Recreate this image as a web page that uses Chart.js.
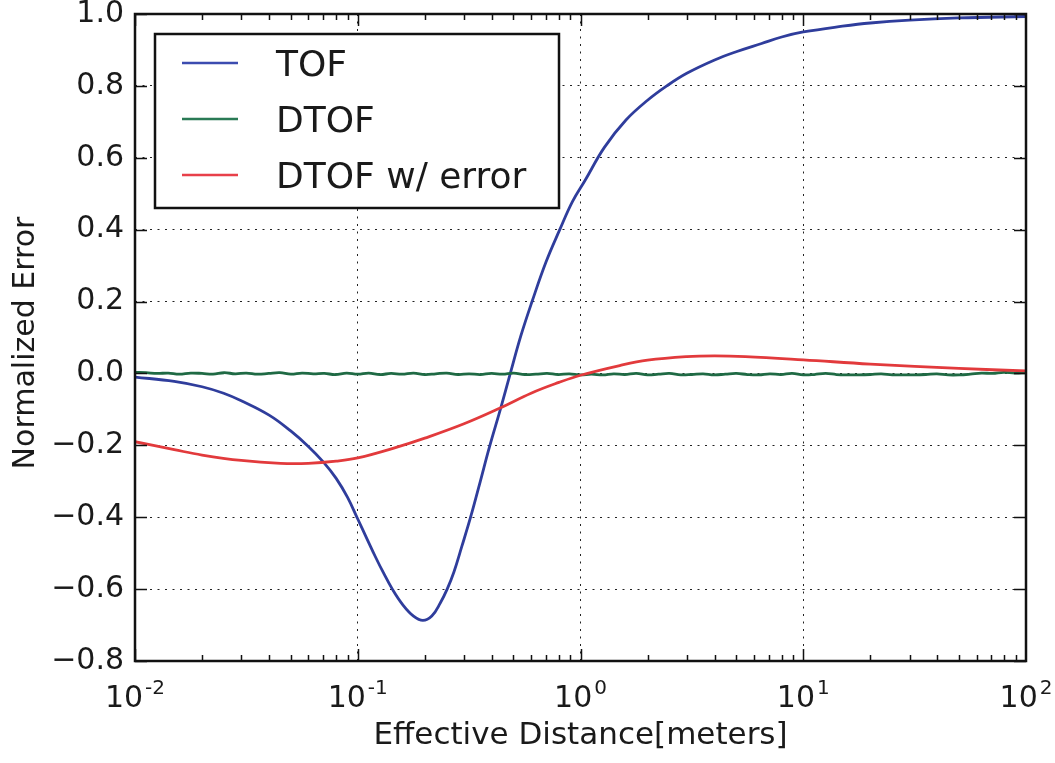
<!DOCTYPE html>
<html>
<head>
<meta charset="utf-8">
<script src="https://cdn.jsdelivr.net/npm/chart.js@4/dist/chart.umd.min.js"></script>
<style>
  html, body { margin: 0; padding: 0; background: #fff; }
  #wrap { width: 1055px; height: 763px; }
</style>
</head>
<body>
<div id="wrap"><canvas id="chart" width="1055" height="763"></canvas></div>
<script>
// --- data ---
const seriesLabels = ['TOF', 'DTOF', 'DTOF w/ error'];

const tofX = [0.01, 0.015, 0.02, 0.025, 0.03, 0.04, 0.05, 0.06, 0.07, 0.08, 0.09, 0.1,
  0.11, 0.12, 0.13, 0.143, 0.16, 0.178, 0.196, 0.215, 0.235, 0.252, 0.27, 0.293, 0.321,
  0.355, 0.39, 0.44, 0.484, 0.54, 0.606, 0.70, 0.807, 0.92, 1.046, 1.28, 1.6, 2.0, 2.44,
  3.0, 4.0, 5.0, 6.5, 8.0, 10, 15, 20, 30, 50, 100];
const tofY = [-0.010, -0.022, -0.037, -0.055, -0.076, -0.116, -0.160, -0.203, -0.246, -0.292, -0.345, -0.405,
  -0.460, -0.510, -0.553, -0.600, -0.645, -0.675, -0.687, -0.675, -0.638, -0.600, -0.553, -0.482, -0.400,
  -0.300, -0.205, -0.093, 0.000, 0.105, 0.200, 0.310, 0.400, 0.478, 0.536, 0.629, 0.705, 0.760, 0.800,
  0.835, 0.872, 0.895, 0.918, 0.936, 0.950, 0.966, 0.975, 0.983, 0.989, 0.993];

const dtofX = [
  0.01, 0.0112, 0.0126, 0.0141, 0.0158, 0.0178, 0.02, 0.0224, 0.0251, 0.0282,
  0.0316, 0.0355, 0.0398, 0.0447, 0.0501, 0.0562, 0.0631, 0.0708, 0.0794, 0.0891,
  0.1, 0.112, 0.126, 0.141, 0.158, 0.178, 0.2, 0.224, 0.251, 0.282,
  0.316, 0.355, 0.398, 0.447, 0.501, 0.562, 0.631, 0.708, 0.794, 0.891,
  1, 1.12, 1.26, 1.41, 1.58, 1.78, 2, 2.24, 2.51, 2.82,
  3.16, 3.55, 3.98, 4.47, 5.01, 5.62, 6.31, 7.08, 7.94, 8.91,
  10, 11.2, 12.6, 14.1, 15.8, 17.8, 20, 22.4, 25.1, 28.2,
  31.6, 35.5, 39.8, 44.7, 50.1, 56.2, 63.1, 70.8, 79.4, 89.1, 100];
const dtofY = [
  0.003, 0.002, 0.000, 0.001, -0.002, 0.001, 0.000, -0.002, 0.002, -0.001,
  0.001, -0.002, 0.000, 0.002, -0.002, 0.001, -0.001, 0.000, -0.003, 0.001,
  -0.002, 0.001, -0.003, 0.000, -0.002, 0.001, -0.003, -0.001, 0.001, -0.003,
  -0.001, -0.003, 0.000, -0.002, 0.001, -0.003, -0.002, 0.000, -0.003, -0.001,
  -0.004, -0.002, -0.004, -0.001, -0.003, 0.000, -0.004, -0.002, 0.000, -0.004,
  -0.003, -0.001, -0.004, -0.002, 0.000, -0.003, -0.004, -0.001, -0.003, 0.000,
  -0.004, -0.003, 0.000, -0.003, -0.004, -0.004, -0.003, -0.001, -0.004, -0.004,
  -0.004, -0.003, -0.001, -0.004, -0.004, -0.002, 0.001, 0.000, 0.003, 0.001, 0.002];

const errX = [0.01, 0.015, 0.02, 0.03, 0.045, 0.06, 0.08, 0.1, 0.15, 0.2, 0.3, 0.436,
  0.6, 0.8, 1.0, 1.5, 2.0, 3.0, 4.0, 5.5, 10, 20, 50, 100];
const errY = [-0.190, -0.212, -0.227, -0.242, -0.250, -0.250, -0.244, -0.235, -0.205, -0.180, -0.140, -0.096,
  -0.055, -0.025, -0.005, 0.022, 0.037, 0.047, 0.049, 0.047, 0.038, 0.026, 0.014, 0.007];

const xTickValues = [0.01, 0.1, 1, 10, 100];
const xTickExps = ['-2', '-1', '0', '1', '2'];
const yMin = -0.8, yMax = 1.0, yStep = 0.2;

const colors = ['#2f3d9c', '#1f6a44', '#e23a3c'];
const legendColors = ['#3c4cb0', '#2a7a55', '#e8404a'];
const FONT = '"DejaVu Sans", "Liberation Sans", sans-serif';

function pts(xs, ys) {
  return xs.map((x, i) => ({x: x, y: ys[i]}));
}

function fmtY(v) {
  if (Math.abs(v) < 1e-9) return '0.0';
  const s = Math.abs(v).toFixed(1);
  return v < 0 ? '\u2212' + s : s;
}

// frame, inward ticks, exponent labels, legend, y title
const decor = {
  id: 'decor',
  afterDraw(chart) {
    const ctx = chart.ctx;
    const a = chart.chartArea;
    const xs = chart.scales.x, ys = chart.scales.y;
    ctx.save();
    ctx.strokeStyle = '#111';

    // ticks on x (top and bottom)
    ctx.lineWidth = 1.5;
    for (let d = -2; d < 2; d++) {
      for (let m = 1; m < 10; m++) {
        const v = m * Math.pow(10, d);
        const px = Math.round(xs.getPixelForValue(v)) + 0.5;
        const len = m === 1 ? 12 : 6;
        ctx.beginPath();
        ctx.moveTo(px, a.bottom); ctx.lineTo(px, a.bottom - len);
        ctx.moveTo(px, a.top); ctx.lineTo(px, a.top + len);
        ctx.stroke();
      }
    }
    // ticks on y (left and right)
    for (let v = yMin; v <= yMax + 1e-9; v += yStep) {
      const py = Math.round(ys.getPixelForValue(v)) + 0.5;
      ctx.beginPath();
      ctx.moveTo(a.left, py); ctx.lineTo(a.left + 12, py);
      ctx.moveTo(a.right, py); ctx.lineTo(a.right - 12, py);
      ctx.stroke();
    }

    // frame
    ctx.lineWidth = 2.5;
    ctx.strokeRect(a.left, a.top, a.right - a.left, a.bottom - a.top);

    // x tick labels 10^n
    ctx.fillStyle = '#1a1a1a';
    ctx.textBaseline = 'alphabetic';
    ctx.textAlign = 'left';
    xTickValues.forEach(function (v, i) {
      const px = xs.getPixelForValue(v);
      ctx.font = '30px ' + FONT;
      const wb = ctx.measureText('10').width;
      ctx.font = '20px ' + FONT;
      const we = ctx.measureText(xTickExps[i]).width;
      const x0 = px - (wb + we + 2) / 2;
      ctx.font = '30px ' + FONT;
      ctx.fillText('10', x0, a.bottom + 46);
      ctx.font = '20px ' + FONT;
      ctx.fillText(xTickExps[i], x0 + wb + 2, a.bottom + 33);
    });

    // y axis title
    ctx.save();
    ctx.translate(34, 343);
    ctx.rotate(-Math.PI / 2);
    ctx.textAlign = 'center';
    ctx.font = '30px ' + FONT;
    ctx.fillText('Normalized Error', 0, 0);
    ctx.restore();

    // legend box
    const lx = 155, ly = 34, lw = 404, lh = 174;
    ctx.fillStyle = '#fff';
    ctx.fillRect(lx, ly, lw, lh);
    ctx.lineWidth = 2.5;
    ctx.strokeStyle = '#111';
    ctx.strokeRect(lx, ly, lw, lh);
    const rows = [63, 119, 175];
    ctx.font = '36px ' + FONT;
    chart.data.datasets.forEach(function (ds, i) {
      ctx.strokeStyle = legendColors[i];
      ctx.lineWidth = 2.5;
      ctx.beginPath();
      ctx.moveTo(182, rows[i]); ctx.lineTo(238, rows[i]);
      ctx.stroke();
      ctx.fillStyle = '#1a1a1a';
      ctx.fillText(ds.label, 276, rows[i] + 13);
    });
    ctx.restore();
  }
};

new Chart(document.getElementById('chart'), {
  type: 'line',
  data: {
    datasets: [
      {label: seriesLabels[0], data: pts(tofX, tofY), borderColor: colors[0], order: 2,
       tension: 0.4},
      {label: seriesLabels[1], data: pts(dtofX, dtofY), borderColor: colors[1], order: 1,
       tension: 0.4},
      {label: seriesLabels[2], data: pts(errX, errY), borderColor: colors[2], order: 0,
       tension: 0.4}
    ]
  },
  options: {
    responsive: false,
    animation: false,
    events: [],
    layout: {padding: {left: 0, right: 29, top: 14, bottom: 0}},
    elements: {
      point: {radius: 0},
      line: {borderWidth: 2.8, fill: false}
    },
    plugins: {legend: {display: false}, tooltip: {enabled: false}},
    scales: {
      x: {
        type: 'logarithmic',
        min: 0.01,
        max: 100,
        afterBuildTicks: function (scale) {
          scale.ticks = xTickValues.map(v => ({value: v, major: true}));
        },
        afterFit: function (scale) {
          scale.height = 102;
          scale.paddingLeft = 0; scale.paddingRight = 0;
        },
        ticks: {display: false},
        grid: {color: '#222', lineWidth: 1, drawTicks: false},
        border: {display: false, dash: [2, 5.5]},
        title: {
          display: true,
          text: 'Effective Distance[meters]',
          color: '#1a1a1a',
          font: {family: FONT, size: 31},
          padding: {top: 0, bottom: 8}
        }
      },
      y: {
        min: yMin,
        max: yMax,
        afterFit: function (scale) {
          scale.width = 135;
          scale.paddingTop = 0; scale.paddingBottom = 0;
        },
        ticks: {
          stepSize: yStep,
          padding: 11,
          color: '#1a1a1a',
          font: {family: FONT, size: 30},
          callback: function (v) { return fmtY(v); }
        },
        grid: {color: '#222', lineWidth: 1, drawTicks: false},
        border: {display: false, dash: [2, 5.5]}
      }
    }
  },
  plugins: [decor]
});
</script>
</body>
</html>
